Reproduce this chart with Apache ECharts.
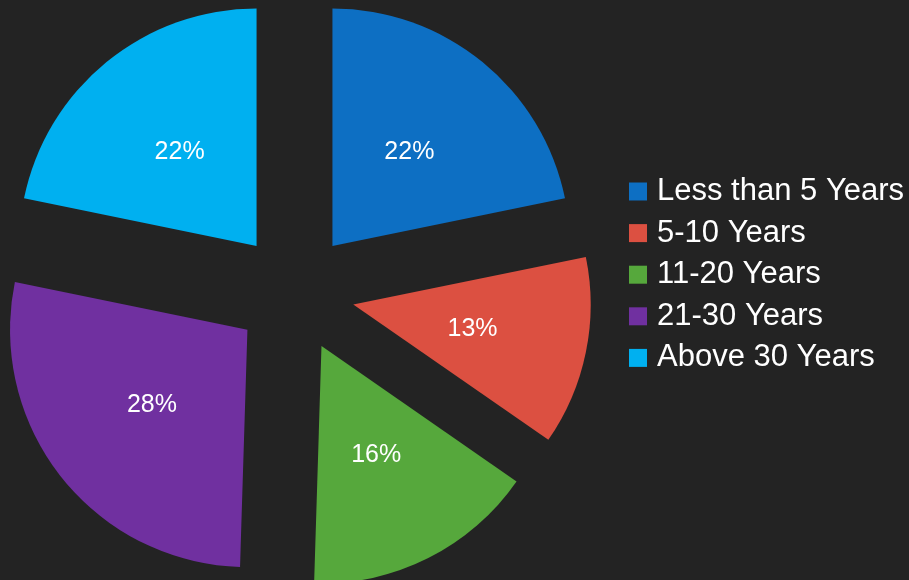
<!DOCTYPE html>
<html>
<head>
<meta charset="utf-8">
<script src="https://cdn.jsdelivr.net/npm/echarts@6/dist/echarts.min.js"></script>
<style>
  html, body { margin: 0; padding: 0; background: #232323; }
  #chart { width: 909px; height: 580px; }
</style>
</head>
<body>
<div id="chart"></div>
<script>
// Years of experience, share of respondents (%)
const categories = ['Less than 5 Years', '5-10 Years', '11-20 Years', '21-30 Years', 'Above 30 Years'];
const shares = [22, 13, 16, 28, 22];
const colors = ['#0d6fc3', '#dc5041', '#56a83c', '#7030a0', '#00b0f0'];

const chart = echarts.init(document.getElementById('chart'), null, { renderer: 'canvas' });

chart.setOption({
  backgroundColor: '#232323',
  animation: false,
  color: colors,
  legend: {
    orient: 'vertical',
    left: 629,
    top: 176,
    padding: 0,
    itemWidth: 18,
    itemHeight: 18,
    itemGap: 10.6,
    icon: 'rect',
    selectedMode: false,
    textStyle: {
      color: '#ffffff',
      fontFamily: 'Liberation Sans, Arial, sans-serif',
      fontSize: 31,
      lineHeight: 31,
      padding: [0, 0, 0, 5]
    },
    data: categories
  },
  series: [{
    type: 'pie',
    center: [294.5, 292.5],
    radius: [0, 237.4],
    startAngle: 90,
    clockwise: true,
    selectedMode: 'multiple',
    selectedOffset: 60,
    avoidLabelOverlap: false,
    itemStyle: { borderWidth: 0 },
    label: {
      show: true,
      position: 'inside',
      formatter: '{c}%',
      color: '#ffffff',
      fontFamily: 'Liberation Sans, Arial, sans-serif',
      fontSize: 25,
      offset: [0, 2]
    },
    labelLine: { show: false },
    emphasis: { disabled: true },
    select: { itemStyle: { borderWidth: 0 } },
    data: categories.map((name, i) => ({ name, value: shares[i], selected: true }))
  }]
});
</script>
</body>
</html>
